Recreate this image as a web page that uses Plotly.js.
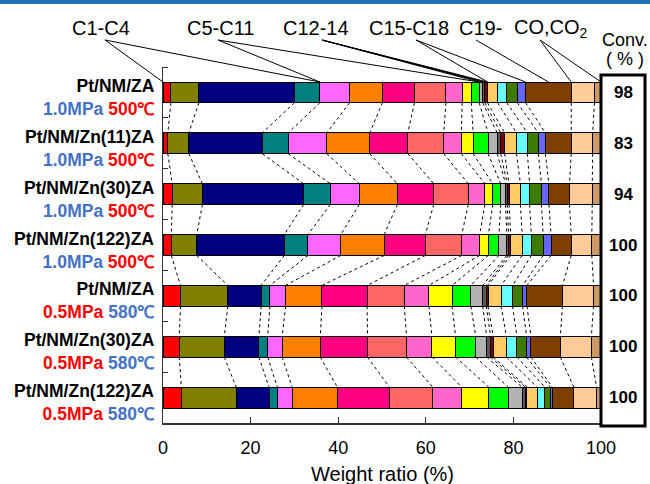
<!DOCTYPE html>
<html><head><meta charset="utf-8">
<script src="https://cdn.plot.ly/plotly-3.0.1.min.js"></script>
<style>html,body{margin:0;padding:0;background:#fff}</style>
</head><body><div id="chart" style="width:650px;height:484px"></div>
<script>
// ---------- data ----------
const catalysts = ["Pt/NM/ZA","Pt/NM/Zn(11)ZA","Pt/NM/Zn(30)ZA","Pt/NM/Zn(122)ZA","Pt/NM/ZA","Pt/NM/Zn(30)ZA","Pt/NM/Zn(122)ZA"];
const pressures = ["1.0MPa","1.0MPa","1.0MPa","1.0MPa","0.5MPa","0.5MPa","0.5MPa"];
const temperatures = ["500℃","500℃","500℃","500℃","580℃","580℃","580℃"];
const conversion = [98, 83, 94, 100, 100, 100, 100];
const components = ["C1","C2","C3","C4","C5","C6","C7","C8","C9","C10","C11","C12","C13","C14","C15","C16","C17","C18","C19+","CO","CO2"];
const groupNames = ["C1-C4","C5-C11","C12-14","C15-C18","C19-","CO,CO<sub>2</sub>"];
const groupSizes = [4, 7, 3, 4, 1, 2];
const xTitle = "Weight ratio (%)";

const C1    = [1.8, 1.1, 2.1, 1.9, 4.0, 3.7, 4.2];
const C2    = [6.4, 4.8, 6.9, 5.8, 10.8, 10.3, 12.5];
const C3    = [21.8, 16.8, 23.1, 20.0, 7.6, 7.9, 7.5];
const C4    = [5.8, 5.9, 6.1, 5.4, 2.0, 2.0, 1.9];
const C5    = [6.8, 8.8, 6.6, 7.5, 3.6, 3.3, 3.4];
const C6    = [7.5, 9.8, 8.7, 9.9, 8.3, 8.7, 10.3];
const C7    = [7.3, 8.7, 8.3, 9.4, 10.3, 10.8, 11.9];
const C8    = [7.2, 8.2, 7.9, 8.3, 8.5, 8.9, 9.9];
const C9    = [3.7, 4.0, 3.8, 4.1, 5.6, 5.8, 6.6];
const C10   = [2.1, 2.7, 1.8, 2.0, 5.3, 5.4, 6.2];
const C11   = [1.8, 3.4, 1.8, 2.4, 4.3, 4.6, 4.4];
const C12   = [0.8, 2.1, 1.1, 1.8, 2.7, 2.5, 3.2];
const C13   = [0.5, 0.8, 0.4, 0.4, 0.8, 0.9, 0.7];
const C14   = [0.6, 0.9, 0.4, 0.5, 0.4, 0.6, 0.4];
const C15   = [2.3, 2.7, 2.6, 2.6, 3.0, 3.0, 2.3];
const C16   = [2.1, 2.5, 2.1, 2.1, 2.6, 2.4, 1.8];
const C17   = [2.4, 2.5, 2.7, 2.7, 2.3, 2.2, 1.2];
const C18   = [1.9, 1.6, 1.7, 1.8, 1.0, 1.0, 0.5];
const C19p  = [10.4, 5.9, 4.7, 4.6, 8.1, 6.7, 4.9];
const CO    = [5.3, 4.9, 5.2, 4.7, 7.1, 7.1, 5.2];
const CO2   = [1.5, 1.9, 2.0, 2.1, 1.7, 2.2, 1.0];

const series = [C1,C2,C3,C4,C5,C6,C7,C8,C9,C10,C11,C12,C13,C14,C15,C16,C17,C18,C19p,CO,CO2];
const colors = ["#FF0000","#808000","#000080","#008080","#FF66FF","#FF8000","#FF0080","#FF6666","#FF66CC","#FFFF00","#00FF00",
                "#B2B2B2","#5A5A5A","#7A0000","#FFCC66","#66FFFF","#3C7A00","#6666FF","#7F3F00","#FFCC99","#CC9966"];

// ---------- geometry ----------
const W = 650, H = 484, ML = 163, MR = 49, MT = 67, MB = 61;
const PW = W - ML - MR, PH = H - MT - MB;
const px2p = px => (px - ML) / PW;
const py2p = py => (H - MB - py) / PH;
const BARW = 0.41;
const yIdx = catalysts.map((_, i) => i);
const y2p = y => (6.5 - y) / 7;

const blue = "#4472C4", red = "#FF0000";

const traces = series.map((vals, k) => ({
  type: "bar", orientation: "h", x: vals, y: yIdx, width: BARW, name: components[k],
  marker: {color: colors[k], line: {color: "#000", width: 1}}, hoverinfo: "name+x"
}));

// cumulative boundaries per bar
const cum = yIdx.map(i => { let s = 0; const out = [0]; series.forEach(v => { s += v[i]; out.push(s); }); return out; });

// dotted connectors between consecutive bars
const cx = [], cy = [];
for (let i = 0; i < yIdx.length - 1; i++) {
  for (let j = 1; j < series.length; j++) {
    cx.push(cum[i][j], cum[i+1][j], null);
    cy.push(i + BARW/2, i + 1 - BARW/2, null);
  }
}
traces.push({type: "scatter", mode: "lines", x: cx, y: cy, line: {color: "#000", width: 1, dash: "dot"}, hoverinfo: "skip", showlegend: false});

const shapes = [];
const annotations = [];

// ---------- category labels (two lines, right aligned) ----------
catalysts.forEach((c, i) => {
  const pc = pressures[i] === "1.0MPa" ? blue : red;
  const tc = pressures[i] === "1.0MPa" ? red : blue;
  annotations.push({xref: "paper", yref: "y", x: px2p(157), y: i, yshift: -5, xanchor: "right", yanchor: "middle", align: "right",
    showarrow: false, font: {size: 17.5, color: "#000"},
    text: `<b>${c}</b><br><b><span style="color:${pc}">${pressures[i]}</span> <span style="color:${tc}">${temperatures[i]}</span></b>`});
});

// ---------- top group labels & leader lines ----------
const labelCenters = [101, 220, 316, 409, 480, 551];
const leaderStart = [105, 218, 322, 416, 476, 540];
const barTop = y2p(-BARW/2);
let idx = 0;
groupNames.forEach((g, gi) => {
  annotations.push({xref: "paper", yref: "paper", x: px2p(labelCenters[gi]), y: py2p(28), text: g, showarrow: false,
    font: {size: 20, color: "#000"}, xanchor: "center", yanchor: "middle"});
  const s = idx, e = idx + groupSizes[gi];
  let ends;
  if (groupSizes[gi] === 1) ends = [(cum[0][s] + cum[0][e]) / 2];
  else if (gi === 2) { ends = []; for (let j = s; j <= e; j++) ends.push(cum[0][j]); }
  else ends = [cum[0][s], cum[0][e]];
  ends.forEach(v => shapes.push({type: "line", xref: "paper", yref: "paper",
    x0: px2p(leaderStart[gi]), y0: py2p(40), x1: v / 100, y1: barTop, line: {color: "#000", width: 1}}));
  idx = e;
});

// top blue band
shapes.push({type: "rect", xref: "paper", yref: "paper", x0: px2p(0), x1: px2p(650), y0: py2p(4), y1: py2p(0),
  fillcolor: "#1F6DB6", line: {width: 0}});
// conversion box
shapes.push({type: "rect", xref: "paper", yref: "paper", x0: 1, x1: px2p(645), y0: py2p(426), y1: py2p(75),
  line: {color: "#000", width: 3}, fillcolor: "rgba(0,0,0,0)"});

annotations.push({xref: "paper", yref: "paper", x: px2p(625), y: py2p(40), xanchor: "center", yanchor: "middle",
  text: "Conv.", showarrow: false, font: {size: 18, color: "#000"}});
annotations.push({xref: "paper", yref: "paper", x: px2p(625), y: py2p(59), xanchor: "center", yanchor: "middle",
  text: "( % )", showarrow: false, font: {size: 18, color: "#000"}});
conversion.forEach((c, i) => annotations.push({xref: "paper", yref: "y", x: px2p(623), y: i, xanchor: "center", yanchor: "middle",
  text: `<b>${c}</b>`, showarrow: false, font: {size: 17, color: "#000"}}));

// x-axis title
annotations.push({xref: "paper", yref: "paper", x: 0.5, y: py2p(474), xanchor: "center", yanchor: "middle",
  text: xTitle, showarrow: false, font: {size: 20, color: "#000"}});

const layout = {
  width: W, height: H, margin: {l: ML, r: MR, t: MT, b: MB, pad: 0},
  paper_bgcolor: "#fff", plot_bgcolor: "#fff", showlegend: false, barmode: "stack",
  font: {family: "Liberation Sans, Arial, sans-serif", color: "#000"},
  xaxis: {range: [0, 100], tickvals: [0, 20, 40, 60, 80, 100], ticks: "inside", ticklen: 6, tickcolor: "#333",
    showline: true, linecolor: "#333", linewidth: 1.5, showgrid: false, zeroline: false,
    tickfont: {size: 18}, ticklabelstandoff: 8, automargin: false},
  yaxis: {range: [6.5, -0.5], tickvals: yIdx, showticklabels: false, ticks: "", showline: true, linecolor: "#333", linewidth: 1.5,
    showgrid: false, zeroline: false, automargin: false,
    minor: {tickvals: [-0.5, 0.5, 1.5, 2.5, 3.5, 4.5, 5.5, 6.5], ticks: "inside", ticklen: 5, tickcolor: "#333", showgrid: false}},
  shapes: shapes, annotations: annotations
};
Plotly.newPlot("chart", traces, layout, {displayModeBar: false, staticPlot: true});
</script></body></html>
